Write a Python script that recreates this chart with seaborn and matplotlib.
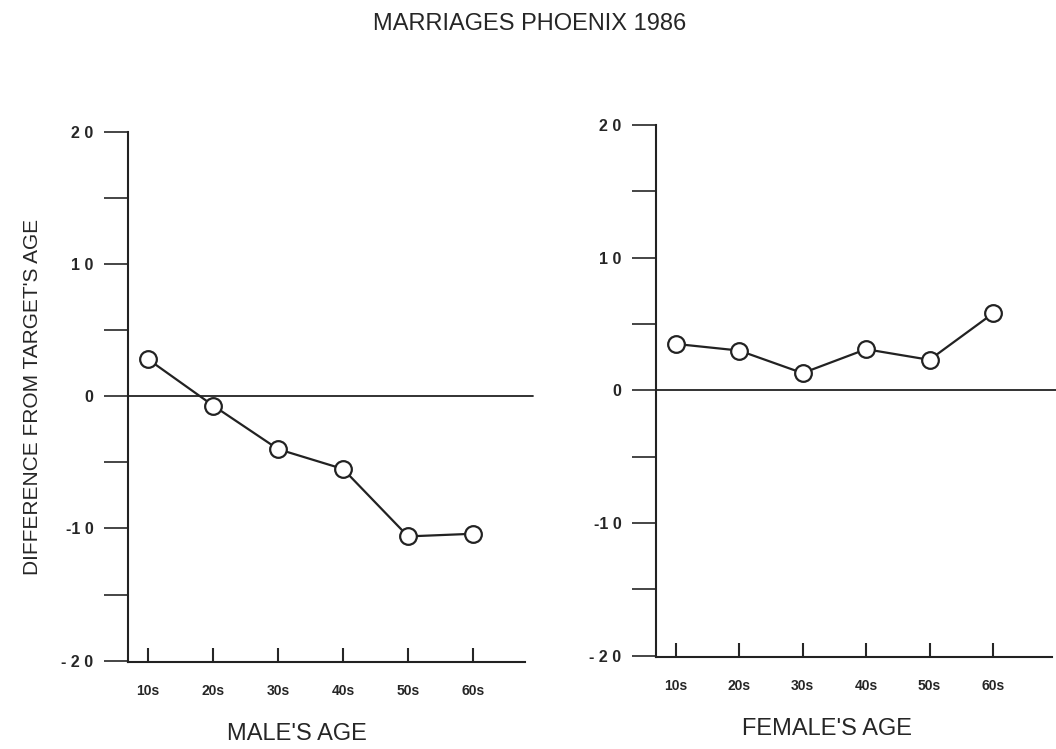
import matplotlib
matplotlib.use("Agg")
import matplotlib.pyplot as plt
import seaborn as sns
import pandas as pd

# Values
age_groups = ['10s', '20s', '30s', '40s', '50s', '60s']
male_diff = [2.8, -0.7, -4.0, -5.5, -10.6, -10.4]
female_diff = [3.5, 3.0, 1.3, 3.1, 2.3, 5.8]
y_ticks = [-20, -10, 0, 10, 20]
y_tick_labels = ['- 2 0', '-1 0', '0', '1 0', '2 0']
minor_ticks = [-15, -5, 5, 15]

sns.set_style("ticks")
plt.rcParams['font.family'] = ['Liberation Sans', 'DejaVu Sans']

fig = plt.figure(figsize=(10.56, 7.49), dpi=100)
ax_m = fig.add_axes([0.1212, 0.1162, 0.376, 0.7076])
ax_f = fig.add_axes([0.6212, 0.1228, 0.375, 0.7103])


def draw_panel(ax, values, xlabel, xmax, label_x):
    df = pd.DataFrame({'pos': range(len(age_groups)), 'diff': values})
    ax.axhline(0, xmin=0, xmax=1.02, color='#222222', lw=1.3, clip_on=False, zorder=1)
    sns.lineplot(data=df, x='pos', y='diff', ax=ax, color='#222222', lw=1.6,
                 marker='o', markersize=12, markerfacecolor='white',
                 markeredgecolor='#222222', markeredgewidth=1.6, zorder=3)
    ax.set_xlim(-0.31, xmax)
    ax.set_ylim(-20.1, 20)
    ax.set_xticks(range(len(age_groups)))
    ax.set_xticklabels(age_groups, fontsize=10, fontweight='bold')
    ax.set_yticks(y_ticks)
    ax.set_yticklabels(y_tick_labels, fontsize=11.5, fontweight='bold')
    ax.set_yticks(minor_ticks, minor=True)
    ax.tick_params(axis='y', which='both', direction='out', length=17, width=1.2, pad=8)
    ax.tick_params(axis='x', direction='in', length=10, width=1.5, pad=16)
    sns.despine(ax=ax)
    for s in ['left', 'bottom']:
        ax.spines[s].set_linewidth(1.5)
        ax.spines[s].set_color('#222222')
    ax.set_xlabel(xlabel, fontsize=17)
    ax.xaxis.set_label_coords(label_x, -0.115)
    ax.set_ylabel('')


draw_panel(ax_m, male_diff, "MALE'S AGE", 5.8, 0.426)
draw_panel(ax_f, female_diff, "FEMALE'S AGE", 5.93, 0.432)
ax_m.set_ylabel("DIFFERENCE FROM TARGET'S AGE", fontsize=15, labelpad=14)

fig.suptitle('MARRIAGES PHOENIX 1986', fontsize=17, x=0.502, y=0.982)

fig.savefig('out.png', dpi=100)
